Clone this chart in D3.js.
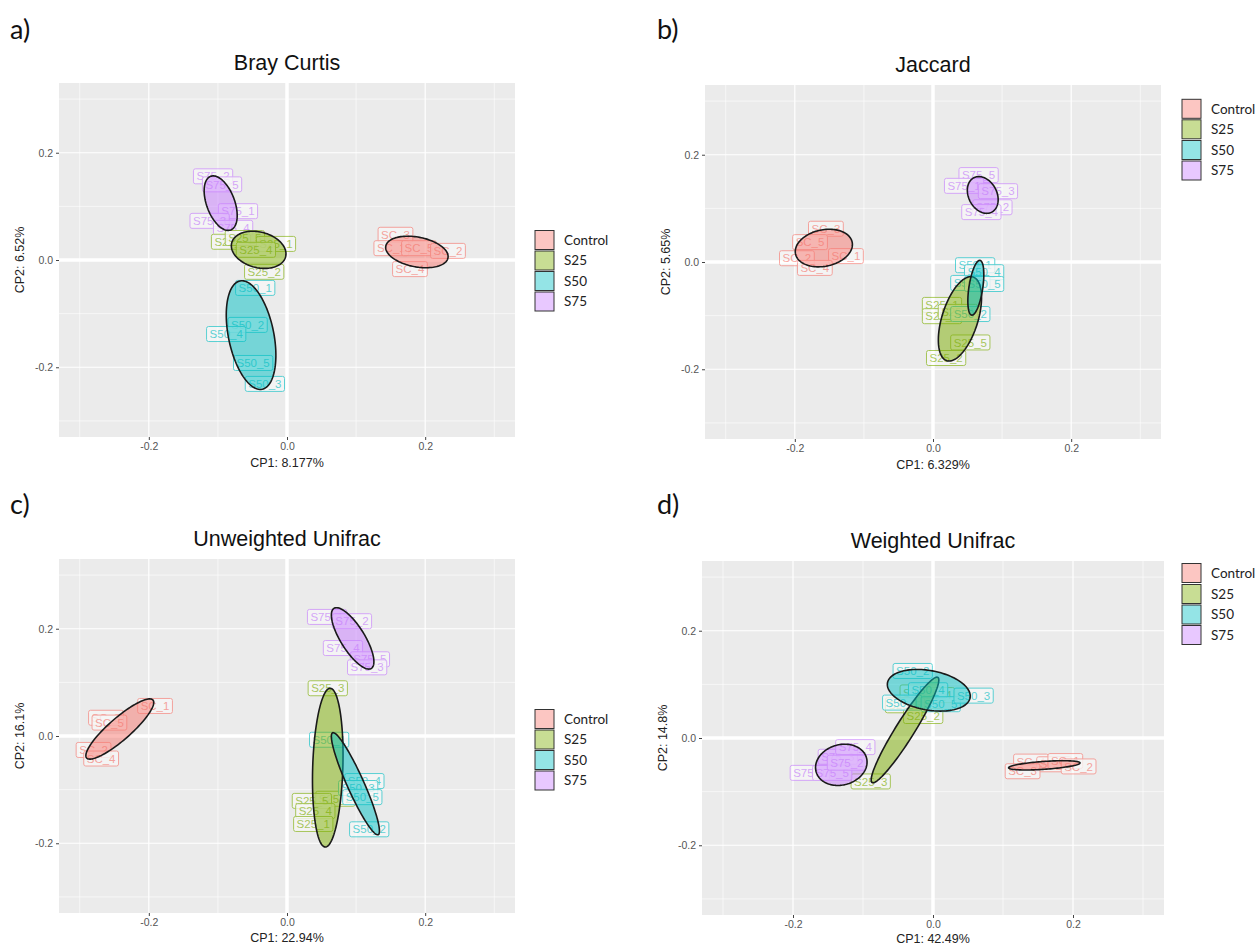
<!DOCTYPE html>
<html><head><meta charset="utf-8">
<script src="https://cdn.jsdelivr.net/npm/d3@7"></script>
<style>body{margin:0;background:#fff}</style>
</head><body><svg id="chart" width="1255" height="947"></svg>
<script>
// ---------- data ----------
const groups = ["Control", "S25", "S50", "S75"];
const groupColors = ["#F8766D", "#7CAE00", "#00BFC4", "#C77CFF"];
const tickValues = [-0.2, 0.0, 0.2];
const tickLabels = ["-0.2", "0.0", "0.2"];
const minorValues = [-0.3, -0.1, 0.1, 0.3];

// a) Bray Curtis
const brayLabels = ["SC_3","SC_1","SC_5","SC_2","SC_4","S75_2","S75_5","S75_1","S75_3","S75_4","S25_3","S25_5","S25_1","S25_4","S25_2","S50_1","S50_2","S50_4","S50_5","S50_3"];
const brayX = [0.157,0.151,0.191,0.233,0.178,-0.107,-0.094,-0.071,-0.112,-0.078,-0.081,-0.061,-0.016,-0.045,-0.033,-0.046,-0.057,-0.088,-0.049,-0.032];
const brayY = [0.047,0.022,0.022,0.017,-0.017,0.156,0.141,0.091,0.073,0.060,0.034,0.041,0.030,0.019,-0.022,-0.052,-0.121,-0.138,-0.192,-0.231];
const brayEllCx = [0.188,-0.041,-0.052,-0.096];
const brayEllCy = [0.015,0.019,-0.140,0.106];
const brayEllAx = [0.045,0.039,0.016,0.0145];
const brayEllAy = [-0.011,-0.013,-0.101,-0.050];
const brayEllRatio = [0.47,0.64,0.41,0.49];

// b) Jaccard
const jacLabels = ["SC_3","SC_5","SC_2","SC_1","SC_4","S75_5","S75_1","S75_3","S75_2","S75_4","S25_1","S25_3","S25_4","S25_5","S25_2","S50_1","S50_4","S50_3","S50_5","S50_2"];
const jacX = [-0.155,-0.178,-0.197,-0.126,-0.171,0.066,0.045,0.094,0.086,0.070,0.013,0.013,0.036,0.054,0.019,0.061,0.074,0.054,0.074,0.054];
const jacY = [0.062,0.037,0.007,0.011,-0.011,0.162,0.142,0.132,0.102,0.093,-0.080,-0.101,-0.093,-0.150,-0.179,-0.006,-0.019,-0.039,-0.041,-0.097];
const jacEllCx = [-0.158,0.039,0.062,0.072];
const jacEllCy = [0.026,-0.106,-0.048,0.125];
const jacEllAx = [0.041,-0.019,-0.006,0.013];
const jacEllAy = [0.011,-0.078,-0.051,-0.032];
const jacEllRatio = [0.63,0.41,0.25,0.73];

// c) Unweighted Unifrac
const unwLabels = ["SC_1","SC_3","SC_5","SC_2","SC_4","S75_1","S75_2","S75_4","S75_5","S75_3","S25_3","S25_2","S25_5","S25_4","S25_1","S50_1","S50_4","S50_3","S50_5","S50_2"];
const unwX = [-0.191,-0.262,-0.257,-0.280,-0.269,0.058,0.094,0.081,0.120,0.116,0.059,0.070,0.036,0.041,0.038,0.061,0.112,0.103,0.109,0.119];
const unwY = [0.056,0.034,0.025,-0.026,-0.042,0.222,0.214,0.164,0.143,0.128,0.089,-0.117,-0.121,-0.140,-0.164,-0.007,-0.084,-0.097,-0.114,-0.174];
const unwEllCx = [-0.242,0.059,0.099,0.095];
const unwEllCy = [0.013,-0.059,-0.089,0.182];
const unwEllAx = [0.048,-0.0036,0.033,0.027];
const unwEllAy = [0.054,-0.148,-0.095,-0.056];
const unwEllRatio = [0.25,0.19,0.15,0.34];

// d) Weighted Unifrac
const wLabels = ["SC_4","SC_5","SC_3","SC_1","SC_2","S25_1","S25_4","S25_5","S25_2","S25_3","S50_2","S50_4","S50_1","S50_5","S50_3","S75_1","S75_5","S75_3","S75_2","S75_4"];
const wX = [0.140,0.173,0.128,0.189,0.208,-0.019,0.003,-0.040,-0.014,-0.089,-0.029,-0.007,-0.044,0.011,0.058,-0.176,-0.144,-0.136,-0.123,-0.111];
const wY = [-0.044,-0.049,-0.062,-0.043,-0.053,0.085,0.080,0.061,0.041,-0.081,0.125,0.089,0.066,0.063,0.079,-0.065,-0.065,-0.035,-0.046,-0.017];
const wEllCx = [0.159,-0.040,-0.006,-0.131];
const wEllCy = [-0.051,0.015,0.089,-0.050];
const wEllAx = [0.051,0.047,0.059,0.036];
const wEllAy = [0.0046,0.098,-0.014,0.013];
const wEllRatio = [0.11,0.15,0.47,0.77];

// ---------- layout ----------
const panels = [
  {letter:"a)", title:"Bray Curtis", xTitle:"CP1: 8.177%", yTitle:"CP2: 6.52%",
   labels:brayLabels, xs:brayX, ys:brayY, ell:[brayEllCx,brayEllCy,brayEllAx,brayEllAy,brayEllRatio],
   left:59, right:515, top:83, bottom:437, xtOff:26, letterX:10, letterY:30, legX:535, legY:[240,260.5,281,301.5]},
  {letter:"b)", title:"Jaccard", xTitle:"CP1: 6.329%", yTitle:"CP2: 5.65%",
   labels:jacLabels, xs:jacX, ys:jacY, ell:[jacEllCx,jacEllCy,jacEllAx,jacEllAy,jacEllRatio],
   left:705, right:1161, top:85, bottom:439, xtOff:26, letterX:657, letterY:30, legX:1182, legY:[108.8,129.3,150,170.5]},
  {letter:"c)", title:"Unweighted Unifrac", xTitle:"CP1: 22.94%", yTitle:"CP2: 16.1%",
   labels:unwLabels, xs:unwX, ys:unwY, ell:[unwEllCx,unwEllCy,unwEllAx,unwEllAy,unwEllRatio],
   left:59, right:515, top:559, bottom:913, xtOff:25, letterX:10, letterY:505, legX:535, legY:[719,739.5,760,780.5]},
  {letter:"d)", title:"Weighted Unifrac", xTitle:"CP1: 42.49%", yTitle:"CP2: 14.8%",
   labels:wLabels, xs:wX, ys:wY, ell:[wEllCx,wEllCy,wEllAx,wEllAy,wEllRatio],
   left:702, right:1164, top:561, bottom:915, xtOff:23.5, letterX:657, letterY:505, legX:1182, legY:[573,594,614.5,635]}
];

const svg = d3.select("#chart");
const groupOf = lab => lab.startsWith("SC") ? 0 : groups.indexOf(lab.split("_")[0]);

function ellipsePath(x, y, cx, cy, ax, ay, ratio) {
  const px = x(cx), py = y(cy);
  const ux = x(cx + ax) - px, uy = y(cy + ay) - py;
  const vx = -uy * ratio, vy = ux * ratio;
  const pts = d3.range(0, 121).map(i => {
    const t = i / 120 * 2 * Math.PI;
    return [px + ux * Math.cos(t) + vx * Math.sin(t), py + uy * Math.cos(t) + vy * Math.sin(t)];
  });
  return d3.line()(pts) + "Z";
}

panels.forEach(p => {
  const x = d3.scaleLinear().domain([-0.33, 0.33]).range([p.left, p.right]);
  const y = d3.scaleLinear().domain([-0.33, 0.33]).range([p.bottom, p.top]);
  const g = svg.append("g");

  // letter and title
  g.append("text").attr("x", p.letterX).attr("y", p.letterY).attr("dy", "0.35em")
    .attr("font-family", "Lato, 'Open Sans', sans-serif").attr("font-size", 27).attr("fill", "#111").text(p.letter);
  g.append("text").attr("x", (p.left + p.right) / 2).attr("y", p.top - 21).attr("dy", "0.35em")
    .attr("text-anchor", "middle").attr("font-family", "'Liberation Sans', Arial, sans-serif")
    .attr("font-size", 21.5).attr("fill", "#111").text(p.title);

  // panel background
  g.append("rect").attr("x", p.left).attr("y", p.top).attr("width", p.right - p.left)
    .attr("height", p.bottom - p.top).attr("fill", "#EBEBEB");

  // minor grid
  g.selectAll(".mx").data(minorValues).join("line")
    .attr("x1", d => x(d)).attr("x2", d => x(d)).attr("y1", p.top).attr("y2", p.bottom)
    .attr("stroke", "#fff").attr("stroke-width", 0.6);
  g.selectAll(".my").data(minorValues).join("line")
    .attr("y1", d => y(d)).attr("y2", d => y(d)).attr("x1", p.left).attr("x2", p.right)
    .attr("stroke", "#fff").attr("stroke-width", 0.6);
  // major grid
  g.append("g").selectAll("line").data(tickValues).join("line")
    .attr("x1", d => x(d)).attr("x2", d => x(d)).attr("y1", p.top).attr("y2", p.bottom)
    .attr("stroke", "#fff").attr("stroke-width", d => d === 0 ? 3.5 : 1.2);
  g.append("g").selectAll("line").data(tickValues).join("line")
    .attr("y1", d => y(d)).attr("y2", d => y(d)).attr("x1", p.left).attr("x2", p.right)
    .attr("stroke", "#fff").attr("stroke-width", d => d === 0 ? 3.5 : 1.2);

  // axes
  const xAxis = d3.axisBottom(x).tickValues(tickValues).tickFormat((d, i) => tickLabels[i])
    .tickSizeInner(3).tickSizeOuter(0).tickPadding(3);
  const yAxis = d3.axisLeft(y).tickValues(tickValues).tickFormat((d, i) => tickLabels[i])
    .tickSizeInner(3).tickSizeOuter(0).tickPadding(3);
  [g.append("g").attr("transform", `translate(0,${p.bottom})`).call(xAxis),
   g.append("g").attr("transform", `translate(${p.left},0)`).call(yAxis)].forEach(a => {
    a.select(".domain").remove();
    a.selectAll(".tick line").attr("stroke", "#444");
    a.selectAll(".tick text").attr("fill", "#555").attr("font-size", 10.5)
      .attr("font-family", "'Liberation Sans', Arial, sans-serif");
  });

  // axis titles
  g.append("text").attr("x", (p.left + p.right) / 2).attr("y", p.bottom + p.xtOff).attr("dy", "0.35em")
    .attr("text-anchor", "middle").attr("font-family", "'Liberation Sans', Arial, sans-serif")
    .attr("font-size", 12.5).attr("fill", "#222").text(p.xTitle);
  g.append("text").attr("transform", `translate(${p.left - 39},${(p.top + p.bottom) / 2}) rotate(-90)`)
    .attr("dy", "0.35em").attr("text-anchor", "middle").attr("font-family", "'Liberation Sans', Arial, sans-serif")
    .attr("font-size", 12.5).attr("fill", "#222").text(p.yTitle);

  // labels
  const lg = g.append("g").attr("opacity", 0.62);
  p.labels.forEach((lab, i) => {
    const gi = groupOf(lab);
    const lx = x(p.xs[i]), ly = y(p.ys[i]);
    const one = lg.append("g");
    const r = one.append("rect");
    const t = one.append("text").attr("x", lx).attr("y", ly).attr("dy", "0.36em")
      .attr("text-anchor", "middle").attr("font-family", "'Liberation Sans', Arial, sans-serif")
      .attr("font-size", 11.5).attr("fill", groupColors[gi]).text(lab);
    const w = t.node().getComputedTextLength() + 6;
    r.attr("x", lx - w / 2).attr("y", ly - 7.5).attr("width", w).attr("height", 15).attr("rx", 2)
      .attr("fill", "#fff").attr("fill-opacity", 0.8).attr("stroke", groupColors[gi]).attr("stroke-width", 1);
  });

  // ellipses
  const [ecx, ecy, eax, eay, er] = p.ell;
  groups.forEach((grp, k) => {
    g.append("path").attr("d", ellipsePath(x, y, ecx[k], ecy[k], eax[k], eay[k], er[k]))
      .attr("fill", groupColors[k]).attr("fill-opacity", 0.5)
      .attr("stroke", "#1a1a1a").attr("stroke-width", 1.6);
  });

  // legend
  groups.forEach((grp, k) => {
    g.append("rect").attr("x", p.legX).attr("y", p.legY[k] - 9.5).attr("width", 19).attr("height", 19)
      .attr("fill", groupColors[k]).attr("fill-opacity", 0.42).attr("stroke", "#333").attr("stroke-width", 1);
    g.append("text").attr("x", p.legX + 29).attr("y", p.legY[k]).attr("dy", "0.35em")
      .attr("font-family", "Lato, 'Open Sans', sans-serif").attr("font-size", 13.5).attr("fill", "#222").text(grp);
  });
});
</script>
</body></html>
